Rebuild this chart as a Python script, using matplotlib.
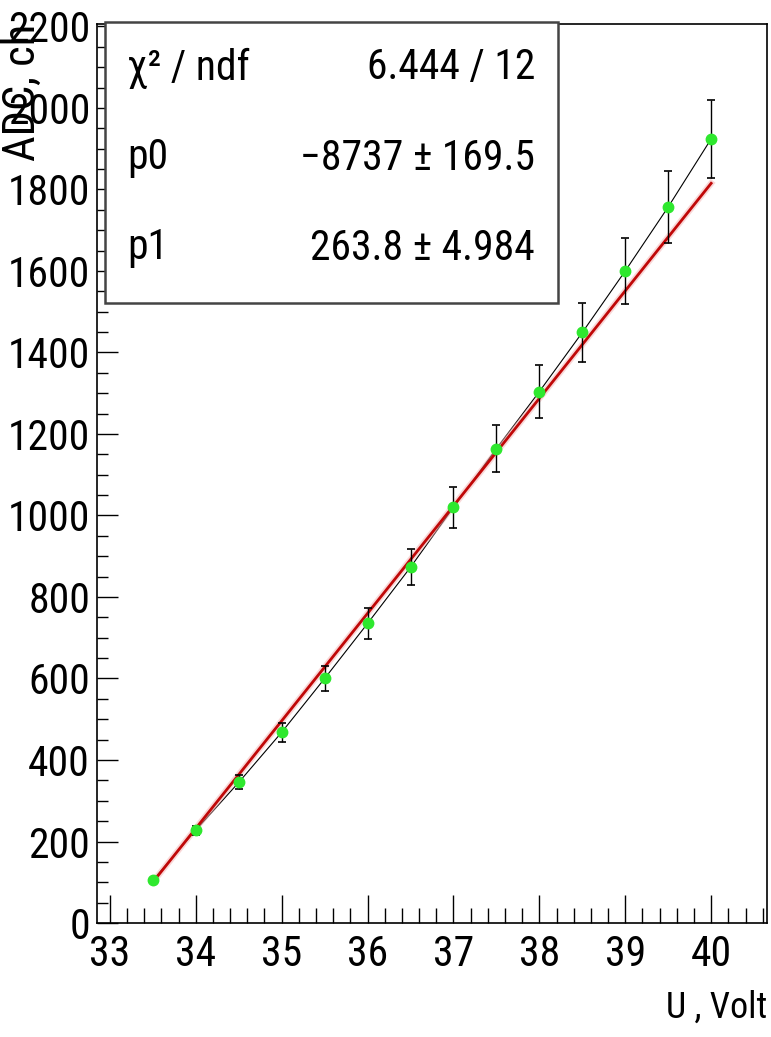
import matplotlib
matplotlib.use("Agg")
import matplotlib.pyplot as plt
from matplotlib.ticker import MultipleLocator
from matplotlib.patches import Rectangle

plt.rcParams['font.family'] = ['Roboto Condensed', 'Liberation Sans', 'DejaVu Sans']

# напряжение питания и отклик АЦП
volts = [33.5, 34.0, 34.5, 35.0, 35.5, 36.0, 36.5, 37.0, 37.5, 38.0, 38.5, 39.0, 39.5, 40.0]
adc = [105, 228, 345, 468, 600, 735, 873, 1020, 1164, 1304, 1449, 1600, 1757, 1924]
adc_err = [5, 11, 17, 23, 30, 37, 44, 51, 58, 65, 72, 80, 88, 96]

# параметры линейной подгонки
p0 = -8737.0
p1 = 263.8
stat_names = ["χ² / ndf", "p0", "p1"]
stat_values = ["6.444 / 12", "−8737 ± 169.5", "263.8 ± 4.984"]

fs = 30
fs_stat = 30

fig = plt.figure(figsize=(7.71, 10.37), dpi=100)
ax = fig.add_axes([0.1258, 0.1099, 0.869, 0.8674])

ax.plot(volts, adc, color="black", lw=0.8, zorder=2)
fit_x = [volts[0], volts[-1]]
fit_y = [p0 + p1 * v for v in fit_x]
ax.plot(fit_x, fit_y, color="#f4b0b0", lw=4.5, alpha=0.5, zorder=3)
ax.plot(fit_x, fit_y, color="#c00808", lw=2.0, zorder=3)
ax.errorbar(volts, adc, yerr=adc_err, fmt="o", color="#2ee82e", ms=7.5,
            ecolor="black", elinewidth=1.0, capsize=3, capthick=1.2, zorder=4)

ax.set_xlim(32.85, 40.65)
ax.set_ylim(0, 2207)
ax.xaxis.set_major_locator(MultipleLocator(1))
ax.xaxis.set_minor_locator(MultipleLocator(0.2))
ax.yaxis.set_major_locator(MultipleLocator(200))
ax.yaxis.set_minor_locator(MultipleLocator(50))
ax.tick_params(which="both", direction="in", top=False, right=False, color="black")
ax.tick_params(axis="x", which="major", length=20, width=1, labelsize=fs, pad=8)
ax.tick_params(axis="x", which="minor", length=11, width=1)
ax.tick_params(axis="y", which="major", length=15, width=1, labelsize=fs, pad=5)
ax.tick_params(axis="y", which="minor", length=8, width=1)
for sp in ax.spines.values():
    sp.set_linewidth(1.2)

ax.set_xlabel("U , Volt", fontsize=26, loc="right")
ax.xaxis.set_label_coords(1.0, -0.074)
ax.set_ylabel("ADC, ch", fontsize=32, loc="top")
ax.yaxis.set_label_coords(-0.08, 1.0)

# окно статистики
box = Rectangle((105 / 771, 1 - 303 / 1037), (558 - 105) / 771, (303 - 22) / 1037,
                transform=fig.transFigure, facecolor="white", edgecolor="#444444",
                lw=1.8, zorder=10)
fig.patches.append(box)
rows_y = [68, 158, 248]
for name, val, ry in zip(stat_names, stat_values, rows_y):
    fig.text(127 / 771, 1 - ry / 1037, name, fontsize=fs_stat, ha="left", va="center", zorder=11)
    fig.text(535 / 771, 1 - ry / 1037, val, fontsize=fs_stat, ha="right", va="center", zorder=11)

fig.savefig("out.png", dpi=100)
